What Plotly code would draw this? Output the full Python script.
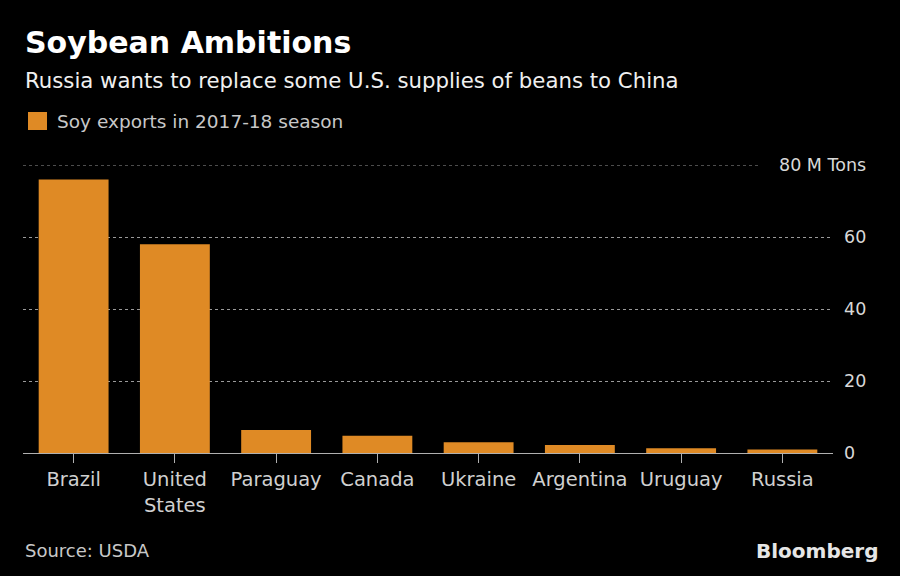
import plotly.graph_objects as go

countries = ["Brazil", "United<br>States", "Paraguay", "Canada", "Ukraine",
             "Argentina", "Uruguay", "Russia"]
exports_mt = [76.0, 58.0, 6.4, 4.8, 3.0, 2.2, 1.3, 1.0]
series_name = "Soy exports in 2017-18 season"
y_tickvals = [0, 20, 40, 60]
y_ticktext = ["0", "20", "40", "60"]
y_top = 80
y_top_label = "80 M Tons"

W, H = 900, 576
L, R, T, B = 23, 67, 165, 123
PW, PH = W - L - R, H - T - B

def px_x(px):
    return (px - L) / PW

def px_y(py):
    return (H - B - py) / PH

FONT = "DejaVu Sans"
ORANGE = "#DF8A25"
GRID = "#9a9a9a"

fig = go.Figure()
fig.add_trace(go.Bar(x=countries, y=exports_mt, name=series_name,
                     marker=dict(color=ORANGE, line=dict(width=0)),
                     showlegend=False, hoverinfo="x+y"))

fig.update_layout(
    width=W, height=H,
    margin=dict(l=L, r=R, t=T, b=B, pad=0),
    paper_bgcolor="black", plot_bgcolor="black",
    bargap=0.31,
    font=dict(family=FONT, color="#d0d0d0"),
    xaxis=dict(categoryorder="array", categoryarray=countries,
               showline=True, linecolor="#b0b0b0", linewidth=1,
               ticks="outside", ticklen=9, tickcolor="#b0b0b0", tickwidth=1,
               tickfont=dict(size=19.5, color="#d0d0d0", family=FONT),
               showgrid=False, zeroline=False, fixedrange=True),
    yaxis=dict(range=[0, y_top], side="right", tickvals=y_tickvals, ticktext=y_ticktext,
               showgrid=True, gridcolor=GRID, griddash="dot", gridwidth=1,
               zeroline=False, showline=False, ticks="",
               ticklabelstandoff=10, fixedrange=True,
               tickfont=dict(size=17.5, color="#d8d8d8", family=FONT)),
)

# top gridline (shortened to leave room for its unit label)
fig.add_shape(type="line", xref="paper", yref="y", x0=0, x1=px_x(760), y0=y_top, y1=y_top,
              line=dict(color=GRID, width=1, dash="dot"))
fig.add_annotation(xref="paper", yref="y", x=px_x(868), y=y_top, text=y_top_label,
                   showarrow=False, xanchor="right", yanchor="middle",
                   font=dict(size=17.5, color="#d8d8d8", family=FONT))

# title / subtitle
fig.add_annotation(xref="paper", yref="paper", x=px_x(23), y=px_y(43), text="<b>Soybean Ambitions</b>",
                   showarrow=False, xanchor="left", yanchor="middle",
                   font=dict(size=30, color="white", family=FONT))
fig.add_annotation(xref="paper", yref="paper", x=px_x(23), y=px_y(80),
                   text="Russia wants to replace some U.S. supplies of beans to China",
                   showarrow=False, xanchor="left", yanchor="middle",
                   font=dict(size=21.25, color="#f0f0f0", family=FONT))

# legend
fig.add_shape(type="rect", xref="paper", yref="paper",
              x0=px_x(28), x1=px_x(47), y0=px_y(130), y1=px_y(112),
              fillcolor=ORANGE, line=dict(width=0))
fig.add_annotation(xref="paper", yref="paper", x=px_x(55), y=px_y(121), text=series_name,
                   showarrow=False, xanchor="left", yanchor="middle",
                   font=dict(size=18.5, color="#c8c8c8", family=FONT))

# footer
fig.add_annotation(xref="paper", yref="paper", x=px_x(23), y=px_y(550), text="Source: USDA",
                   showarrow=False, xanchor="left", yanchor="middle",
                   font=dict(size=18, color="#c8c8c8", family=FONT))
fig.add_annotation(xref="paper", yref="paper", x=px_x(880), y=px_y(551), text="<b>Bloomberg</b>",
                   showarrow=False, xanchor="right", yanchor="middle",
                   font=dict(size=20, color="#e6e6e6", family=FONT))

fig.write_html("out.html", config={"displayModeBar": False},
               post_script="document.body.style.margin='0';")
